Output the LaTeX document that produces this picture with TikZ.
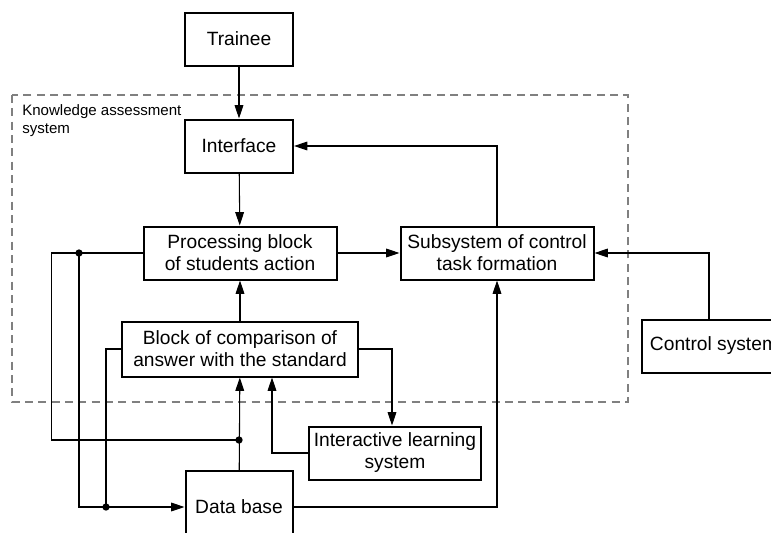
\documentclass[tikz,border=0pt]{standalone}
\usepackage{fontspec}
\setmainfont{Liberation Sans}
\usetikzlibrary{arrows.meta, calc}

\tikzset{
  blk/.style={draw, line width=1.5pt, align=center, inner sep=2pt,
    font=\fontsize{14.4}{16.5}\selectfont, minimum height=39.75pt},
  ln/.style={line width=0.8pt},
  arr/.style={ln, -{Triangle[length=10pt, width=6.5pt]}},
  dot/.style={circle, fill, inner sep=0pt, minimum size=5.5pt}
}

\begin{document}
\begin{tikzpicture}[x=0.75pt, y=-0.75pt]
    \clip (0, 0) rectangle (771, 532);
    % knowledge assessment system frame
    \draw[gray, line width=0.8pt, dash pattern=on 6pt off 4pt]
      (12, 95) rectangle (628, 402);
    \node[anchor=north west, inner sep=0pt, align=left,
      font=\fontsize{11.3}{14}\selectfont] (kas) at (22, 104)
      {Knowledge assessment\\system};
    \node[blk, minimum width=81pt] (trainee) at (239, 39) {Trainee};
    \node[blk, minimum width=81pt] (interface) at (239, 146) {Interface};
    \node[blk, minimum width=144.75pt] (proc) at (240, 253)
      {Processing block\\of students action};
    \node[blk, minimum width=144.75pt] (subsys) at (497, 253)
      {Subsystem of control\\task formation};
    \node[blk, minimum width=177pt, minimum height=41.25pt] (comp) at (240, 349)
      {Block of comparison of\\answer with the standard};
    \node[blk, minimum width=129pt] (inter) at (395, 453)
      {Interactive learning\\system};
    \node[blk, minimum width=80.25pt, minimum height=54pt] (db) at (239, 507)
      {Data base};
    \node[blk, minimum width=108pt, anchor=west] (ctrl) at (641, 346)
      {Control system};
    \coordinate (j1) at (239, 440);
    \coordinate (j2) at (79, 253);
    \coordinate (j3) at (106, 507);
    \draw[arr] (trainee) -- (interface);
    \draw[arr] (interface) -- (proc);
    \draw[arr] (proc) -- (subsys);
    \draw[arr] (subsys.north) |- (interface.east);
    \draw[arr] ($(ctrl.north west)+(68,0)$) |- (subsys.east);
    \draw[arr] (comp) -- (proc);
    \draw[arr] (comp.east) -| ($(inter.north)+(-3,0)$);
    \draw[arr] (inter.west) -| ($(comp.south)+(32,0)$);
    \draw[arr] (db) -- (comp);
    \draw[ln] (proc.west) -- ++(-91, 0) |- (j1);
    \draw[arr] (j2) |- (db.west);
    \draw[ln] (comp.west) -| (j3);
    \draw[arr] (db.east) -| (subsys.south);
    \node[dot] at (j1) {};
    \node[dot] at (j2) {};
    \node[dot] at (j3) {};
  \end{tikzpicture}
\end{document}
